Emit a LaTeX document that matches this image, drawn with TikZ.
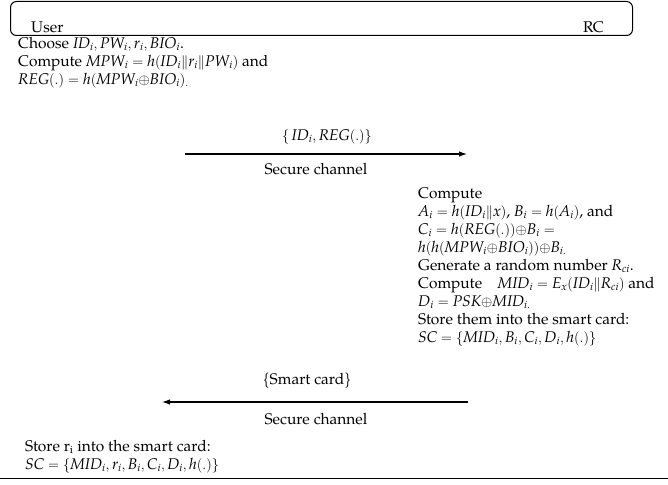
\documentclass[tikz,border=0pt]{standalone}
\usepackage{fontspec}
\setmainfont{TeX Gyre Pagella}
\newfontfamily\mletfam[NFSSFamily=mlet]{TeX Gyre Pagella}
\DeclareSymbolFont{mlet}{TU}{mlet}{m}{it}
\def\mletdo#1{\ifx#1\relax\else\DeclareMathSymbol{#1}{\mathalpha}{mlet}{`#1}\expandafter\mletdo\fi}
\mletdo ABCDEGHIKMOPRSWhicrx\relax
\newcommand{\xo}{{\oplus}}
\usetikzlibrary{arrows.meta}
\begin{document}
\begin{tikzpicture}[x=1pt,y=-1pt,
  txt/.style={inner sep=0pt, font=\fontsize{15.5}{18}\selectfont, align=left, anchor=north west},
  lbl/.style={inner sep=0pt, font=\fontsize{15.5}{18}\selectfont},
  msg/.style={line width=1.1pt, -{Latex[length=8pt,width=5.5pt]}}]
\useasboundingbox (0,0) rectangle (668,484);
% header box
\node[draw, line width=1pt, rounded corners=6pt, minimum width=622pt, minimum height=34pt, anchor=north west, inner sep=0pt] (hdr) at (10,1) {};
\node[lbl, anchor=base west] (user) at (31,33) {User};
\node[lbl, anchor=base west] (rc) at (583,33) {RC};
% user step 1
\node[txt] (u1) at (18,37) {Choose $ID_i, PW_i, r_i, BIO_i$.\\
Compute $MPW_i = h(ID_i\|r_i\|PW_i)$ and\\
$REG(.) = h(MPW_i\xo BIO_i)_{.}$};
% message 1
\coordinate (a1s) at (185,154);
\coordinate (a1e) at (467,154);
\draw[msg] (a1s) -- (a1e);
\node[lbl] (m1) at (327,137) {$\{\,ID_i, REG(.)\}$};
\node[lbl] (s1) at (316,169) {Secure channel};
% RC step
\node[txt] (rc1) at (418,187) {Compute\\
$A_i = h(ID_i\|x)$, $B_i = h(A_i)$, and\\
$C_i = h(REG(.))\xo B_i =$\\
$h(h(MPW_i\xo BIO_i))\xo B_{i.}$\\
Generate a random number $R_{ci}$.\\
Compute\quad $MID_i = E_x(ID_i\|R_{ci})$ and\\
$D_i = PSK\xo MID_{i.}$\\
Store them into the smart card:\\
$SC = \{MID_i, B_i, C_i, D_i, h(.)\}$};
% message 2
\coordinate (a2s) at (468,402);
\coordinate (a2e) at (162,402);
\draw[msg] (a2s) -- (a2e);
\node[lbl] (m2) at (307,381) {\{Smart card\}};
\node[lbl] (s2) at (316,419) {Secure channel};
% user step 2
\node[txt] (u2) at (25,440) {Store r$_{\mathrm{i}}$ into the smart card:\\
$SC = \{MID_i, r_i, B_i, C_i, D_i, h(.)\}$};
\coordinate (bl) at (0,478);
\coordinate (br) at (668,478);
\draw[line width=1pt] (bl) -- (br);
\end{tikzpicture}
\end{document}
